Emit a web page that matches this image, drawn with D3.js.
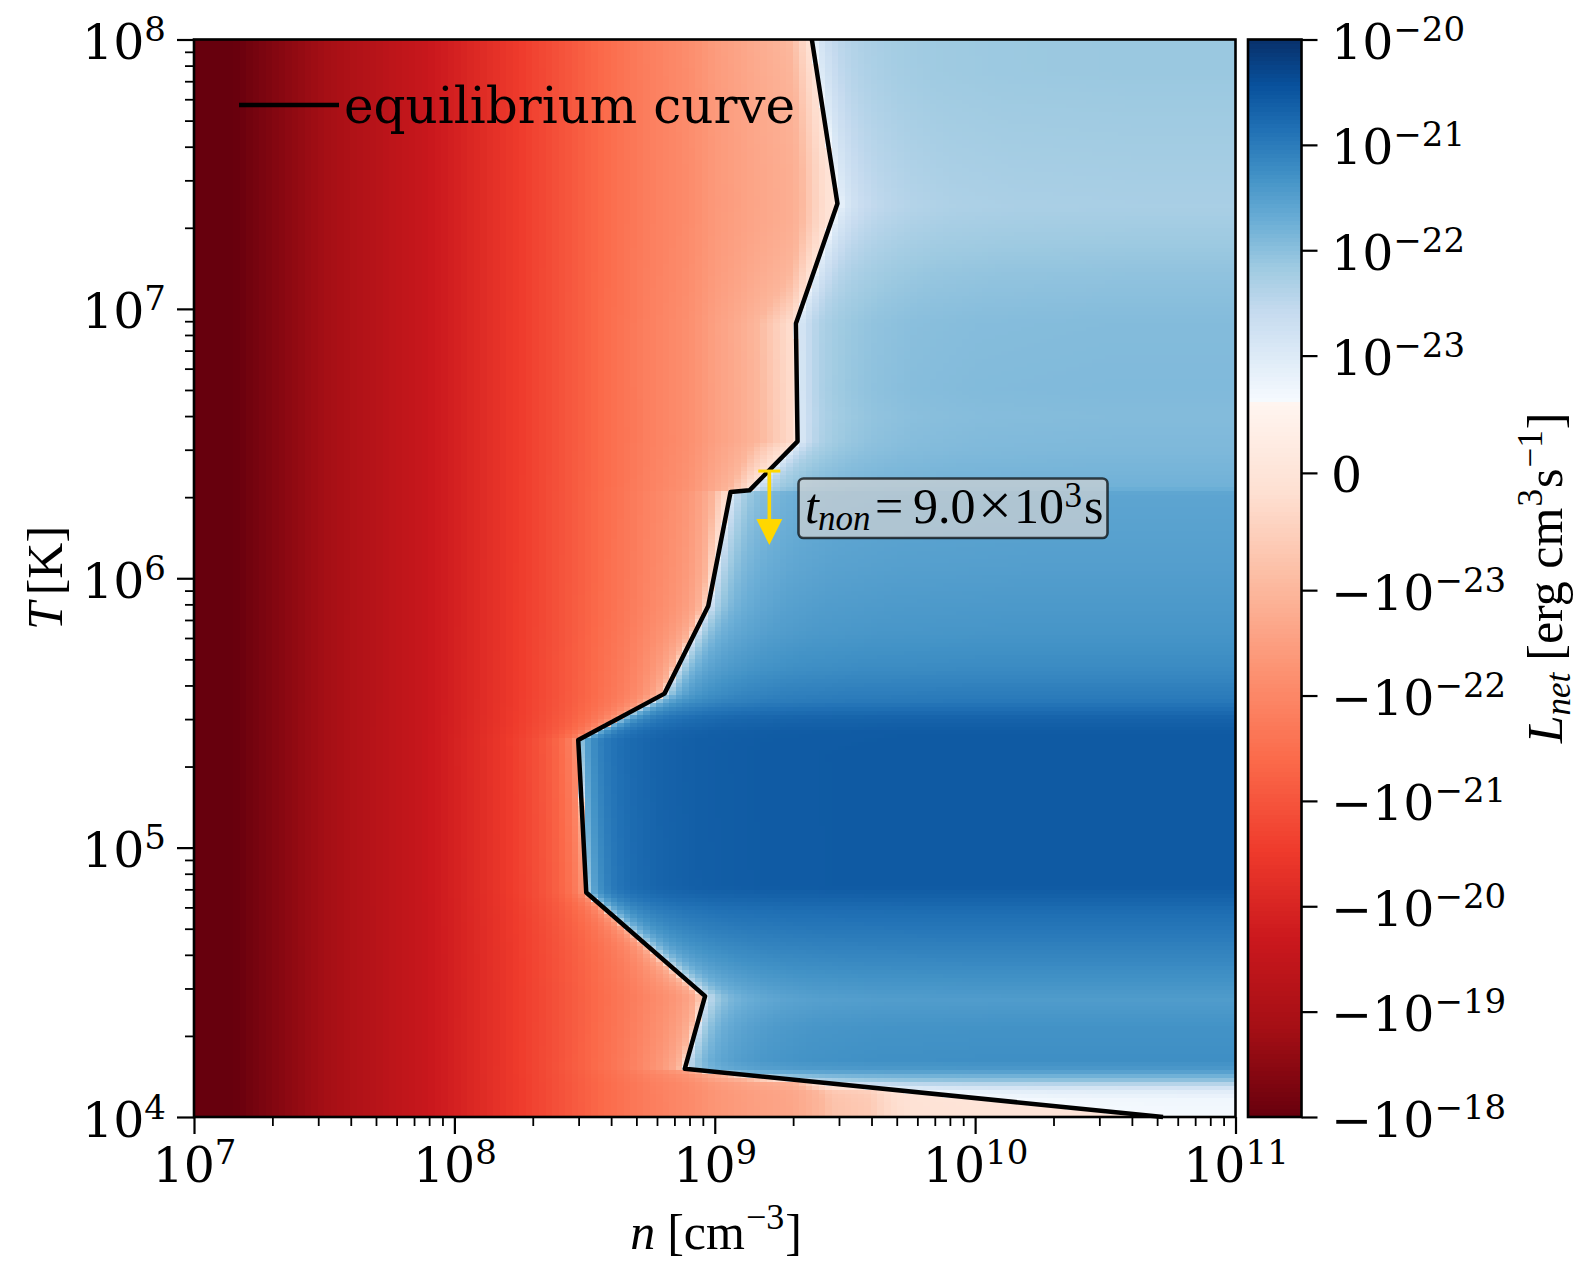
<!DOCTYPE html>
<html>
<head>
<meta charset="utf-8">
<script src="https://cdn.jsdelivr.net/npm/d3@7"></script>
<style>
  html, body { margin: 0; padding: 0; background: #fff; }
  svg { display: block; }
</style>
</head>
<body>
<svg id="sg"></svg>
<script>
// equilibrium curve
const eqDensity = [2.36e9, 2.96e9, 2.05e9, 2.08e9, 1.36e9, 1.15e9, 9.44e8, 6.41e8, 2.99e8, 3.21e8, 9.18e8, 7.67e8, 5.27e10];
const eqTemp = [1e8, 2.46e7, 8.83e6, 3.22e6, 2.12e6, 2.09e6, 7.89e5, 3.73e5, 2.51e5, 6.81e4, 2.81e4, 1.51e4, 1e4];

// heating side: log10 |L_net| against log10 n, read along the bottom and top rows
const heatLogN = [7, 7.154, 7.384, 7.615, 7.884, 8.103, 8.253, 8.572, 8.75, 8.894, 9, 9.148, 9.3, 9.45, 9.6, 9.77, 10, 10.72, 11];
const heatLogL = [-17.8, -18, -18.57, -19.1, -19.6, -20.15, -20.54, -21.39, -21.8, -22.05, -22.3, -22.5, -22.65, -23.1, -23.2, -24, -24.4, -25.5, -26];

// cooling side: log10 L_net against log10 T, read along the right edge
const coolLogT = [8, 7.879, 7.382, 7.137, 6.951, 6.703, 6.603, 6.477, 6.34, 6.317, 6.043, 5.798, 5.672, 5.549, 5.486, 5.427, 5.353, 4.856, 4.819, 4.77, 4.585, 4.437, 4.337, 4.215, 4.178, 4.141, 4.104, 4.067, 4.011, 4];
const coolLogL = [-22.12, -22.12, -22.27, -22.04, -21.93, -21.9, -21.93, -21.88, -21.77, -21.58, -21.48, -21.34, -21.2, -20.96, -20.67, -20.56, -20.55, -20.55, -20.65, -20.8, -21.15, -21.44, -21.3, -21.25, -21.4, -22, -23, -23.15, -23.18, -23.18];

// how fast the blue side recovers with log10 distance from the curve
const riseDist = [0, 0.03, 0.06, 0.1, 0.15, 0.2, 0.3, 0.45, 0.7, 1.2];
const riseFrac = [0, 0.1, 0.22, 0.37, 0.5, 0.6, 0.75, 0.88, 0.96, 1];

// ticks and labels
const xTickExp = [7, 8, 9, 10, 11];
const yTickExp = [4, 5, 6, 7, 8];
const cbarTicks = [1e-20, 1e-21, 1e-22, 1e-23, 0, -1e-23, -1e-22, -1e-21, -1e-20, -1e-19, -1e-18];
const cbarExp = ["20", "21", "22", "23", "", "23", "22", "21", "20", "19", "18"];

// matplotlib Blues and Reds
const bluesStops = ["#f7fbff", "#deebf7", "#c6dbef", "#9ecae1", "#6baed6", "#4292c6", "#2171b5", "#08519c", "#08306b"];
const redsStops = ["#67000d", "#a50f15", "#cb181d", "#ef3b2c", "#fb6a4a", "#fc9272", "#fcbba1", "#fee0d2", "#fff5f0"];

const arrowN = 1.62e9, arrowFromT = 2.5e6, arrowToT = 1.33e6;

const svgWidth = 1595, svgHeight = 1278;
const margin = { top: 39.5, left: 194, right: 1235.5, bottom: 1117 };
const cbar = { left: 1248, right: 1301.5 };
const serif = "'DejaVu Serif', serif";
const stix = "'Liberation Serif', serif";
const bigSize = 49, supSize = 34;

const svg = d3.select("#sg").attr("width", svgWidth).attr("height", svgHeight);

const x = d3.scaleLog().domain([1e7, 1e11]).range([margin.left, margin.right]);
const y = d3.scaleLog().domain([1e4, 1e8]).range([margin.bottom, margin.top]);

// symmetric log like the one on the colour bar: linear inside 1e-23
const linThresh = 1e-23, linDecades = 1.113;
function sym(v) {
  const a = Math.abs(v);
  if (a <= linThresh) return (v / linThresh) * linDecades;
  return Math.sign(v) * (linDecades + Math.log10(a / linThresh));
}
const symMin = sym(-1e-18), symMax = sym(1e-20), symBreak = sym(6e-24);
const cbarY = d3.scaleLinear().domain([symMin, symMax]).range([margin.bottom, margin.top]);

const blues = d3.scaleLinear().domain(bluesStops.map((d, i) => i / 8)).range(bluesStops);
const reds = d3.scaleLinear().domain(redsStops.map((d, i) => i / 8)).range(redsStops);
function colorOf(s) {
  s = Math.max(symMin, Math.min(symMax, s));
  if (s < symBreak) return reds((s - symMin) / (symBreak - symMin));
  return blues((s - symBreak) / (symMax - symBreak));
}

const heatAt = d3.scaleLinear().domain(heatLogN).range(heatLogL);
const coolAt = d3.scaleLinear().domain(coolLogT).range(coolLogL);
const riseAt = d3.scaleLinear().domain(riseDist).range(riseFrac).clamp(true);
const eqLogN = d3.scaleLinear().domain(eqTemp.map(Math.log10)).range(eqDensity.map(Math.log10));

function netValue(logN, logT) {
  const edge = eqLogN(logT);
  if (logN < edge) return -(Math.pow(10, heatAt(logN)) - Math.pow(10, heatAt(edge)));
  const cool = Math.pow(10, coolAt(logT));
  return 6.1e-24 + Math.max(0, cool - 6.1e-24) * riseAt(logN - edge);
}

// heat map
const colCount = 160, rowCount = 270;
const nCols = d3.range(colCount).map(i => 7 + (i * 4) / colCount);
const tRows = d3.range(rowCount).map(i => 4 + (i * 4) / rowCount);
const heat = svg.append("g").attr("shape-rendering", "crispEdges");
tRows.forEach(function(lt) {
  const top = y(Math.pow(10, lt + 4 / rowCount));
  const bot = y(Math.pow(10, lt));
  heat.append("g")
    .selectAll("rect")
    .data(nCols)
    .join("rect")
    .attr("x", d => x(Math.pow(10, d)))
    .attr("y", top)
    .attr("width", d => x(Math.pow(10, d + 4 / colCount)) - x(Math.pow(10, d)) + 0.6)
    .attr("height", bot - top + 0.6)
    .attr("fill", d => colorOf(sym(netValue(d + 2 / colCount, lt + 2 / rowCount))));
});

// equilibrium curve
const line = d3.line().x(d => x(d[0])).y(d => y(d[1]));
svg.append("path")
  .datum(d3.zip(eqDensity, eqTemp))
  .attr("fill", "none")
  .attr("stroke", "#000")
  .attr("stroke-width", 4.5)
  .attr("stroke-linejoin", "round")
  .attr("d", line);

svg.append("rect")
  .attr("x", margin.left).attr("y", margin.top)
  .attr("width", margin.right - margin.left).attr("height", margin.bottom - margin.top)
  .attr("fill", "none").attr("stroke", "#000").attr("stroke-width", 2.6);

// 10^k labels as real text
function powerText(sel, lead, exp) {
  sel.attr("font-family", serif).attr("font-size", bigSize).attr("fill", "#000");
  sel.append("tspan").text(lead);
  if (exp !== "") sel.append("tspan").attr("dy", -18).attr("font-size", supSize).text(exp);
}

function minorsOf(exps) {
  const out = [];
  exps.slice(0, -1).forEach(e => d3.range(2, 10).forEach(m => out.push(m * Math.pow(10, e))));
  return out;
}

function dressAxis(g, sw) {
  g.select(".domain").remove();
  g.selectAll(".tick line").attr("stroke", "#000").attr("stroke-width", sw);
  g.selectAll(".tick text").remove();
}

// x axis
const xMinor = svg.append("g").attr("transform", "translate(0," + margin.bottom + ")")
  .call(d3.axisBottom(x).tickValues(minorsOf(xTickExp)).tickSize(9).tickFormat(""));
dressAxis(xMinor, 1.8);
const xMajor = svg.append("g").attr("transform", "translate(0," + margin.bottom + ")")
  .call(d3.axisBottom(x).tickValues(xTickExp.map(e => Math.pow(10, e))).tickSize(17).tickFormat(""));
dressAxis(xMajor, 2.2);
xMajor.selectAll(".tick").data(xTickExp).append("text")
  .attr("y", 65).attr("text-anchor", "middle")
  .each(function(d) { powerText(d3.select(this), "10", String(d)); });

// y axis
const yMinor = svg.append("g").attr("transform", "translate(" + margin.left + ",0)")
  .call(d3.axisLeft(y).tickValues(minorsOf(yTickExp)).tickSize(9).tickFormat(""));
dressAxis(yMinor, 1.8);
const yMajor = svg.append("g").attr("transform", "translate(" + margin.left + ",0)")
  .call(d3.axisLeft(y).tickValues(yTickExp.map(e => Math.pow(10, e))).tickSize(17).tickFormat(""));
dressAxis(yMajor, 2.2);
yMajor.selectAll(".tick").data(yTickExp).append("text")
  .attr("x", -28).attr("y", 19).attr("text-anchor", "end")
  .each(function(d) { powerText(d3.select(this), "10", String(d)); });

// colour bar
const levels = d3.range(256).map(i => symMin + ((symMax - symMin) * (i + 0.5)) / 256);
const cellH = Math.abs(cbarY(levels[1]) - cbarY(levels[0]));
svg.append("g").attr("shape-rendering", "crispEdges")
  .selectAll("rect").data(levels).join("rect")
  .attr("x", cbar.left).attr("width", cbar.right - cbar.left)
  .attr("y", d => cbarY(d) - cellH / 2).attr("height", cellH + 0.6)
  .attr("fill", colorOf);
svg.append("rect")
  .attr("x", cbar.left).attr("y", margin.top)
  .attr("width", cbar.right - cbar.left).attr("height", margin.bottom - margin.top)
  .attr("fill", "none").attr("stroke", "#000").attr("stroke-width", 2.6);
const cbarAxis = svg.append("g").attr("transform", "translate(" + cbar.right + ",0)")
  .call(d3.axisRight(cbarY).tickValues(cbarTicks.map(sym)).tickSize(16).tickFormat(""));
dressAxis(cbarAxis, 2.2);
cbarAxis.selectAll(".tick").data(cbarTicks).append("text")
  .attr("x", 29.5).attr("y", 19)
  .each(function(d, i) {
    const lead = d === 0 ? "0" : d < 0 ? "\u221210" : "10";
    powerText(d3.select(this), lead, d === 0 ? "" : "\u2212" + cbarExp[i]);
  });

// axis titles
const xTitle = svg.append("text").attr("x", 716).attr("y", 1249).attr("text-anchor", "middle")
  .attr("font-family", stix).attr("font-size", 50);
xTitle.append("tspan").attr("font-style", "italic").text("n");
xTitle.append("tspan").attr("dx", 12).text("[cm");
xTitle.append("tspan").attr("dy", -20).attr("dx", 1).attr("font-size", 36).text("\u22123");
xTitle.append("tspan").attr("dy", 20).attr("dx", 1).text("]");

const yTitle = svg.append("text").attr("transform", "translate(62,578) rotate(-90)").attr("text-anchor", "middle")
  .attr("font-family", stix).attr("font-size", 50);
yTitle.append("tspan").attr("font-style", "italic").text("T");
yTitle.append("tspan").attr("dx", 7).text("[K]");

const cbarTitle = svg.append("text").attr("transform", "translate(1562,578) rotate(-90)").attr("text-anchor", "middle")
  .attr("font-family", stix).attr("font-size", 50);
cbarTitle.append("tspan").attr("font-style", "italic").text("L");
cbarTitle.append("tspan").attr("font-style", "italic").attr("font-size", 35).attr("dy", 8).text("net");
cbarTitle.append("tspan").attr("dy", -8).attr("dx", 12).text("[erg cm");
cbarTitle.append("tspan").attr("dy", -20).attr("dx", 1).attr("font-size", 35).text("3");
cbarTitle.append("tspan").attr("dy", 20).attr("dx", 1).text("s");
cbarTitle.append("tspan").attr("dy", -20).attr("dx", 1).attr("font-size", 35).text("\u22121");
cbarTitle.append("tspan").attr("dy", 20).attr("dx", 1).text("]");

// legend
svg.append("line").attr("x1", 239).attr("x2", 339).attr("y1", 105).attr("y2", 105)
  .attr("stroke", "#000").attr("stroke-width", 4.5);
svg.append("text").attr("x", 344).attr("y", 122.7)
  .attr("font-family", serif).attr("font-size", 50).text("equilibrium curve");

// cooling time arrow
const arrowX = x(arrowN);
const gold = "#ffd700";
svg.append("line").attr("x1", arrowX - 11).attr("x2", arrowX + 11)
  .attr("y1", y(arrowFromT)).attr("y2", y(arrowFromT))
  .attr("stroke", gold).attr("stroke-width", 3);
svg.append("line").attr("x1", arrowX).attr("x2", arrowX)
  .attr("y1", y(arrowFromT)).attr("y2", y(arrowToT) - 20)
  .attr("stroke", gold).attr("stroke-width", 3.6);
svg.append("path")
  .attr("d", d3.line()([[arrowX - 13, y(arrowToT) - 26], [arrowX + 13, y(arrowToT) - 26], [arrowX, y(arrowToT)]]) + "Z")
  .attr("fill", gold);

// annotation box
svg.append("rect").attr("x", 798.5).attr("y", 478.5).attr("width", 309).attr("height", 59.5)
  .attr("rx", 5).attr("ry", 5)
  .attr("fill", "#d3d3d3").attr("fill-opacity", 0.7)
  .attr("stroke", "#000").attr("stroke-opacity", 0.7).attr("stroke-width", 2.6);
const note = svg.append("text").attr("y", 523).attr("font-family", stix).attr("font-size", 50);
note.append("tspan").attr("x", 805).attr("font-style", "italic").text("t");
note.append("tspan").attr("x", 818).attr("dy", 7).attr("font-style", "italic").attr("font-size", 35).text("non");
note.append("tspan").attr("x", 875).attr("dy", -7).text("=");
note.append("tspan").attr("x", 913).text("9.0");
note.append("tspan").attr("x", 978).attr("dy", 2).attr("font-size", 60).text("\u00d7");
note.append("tspan").attr("x", 1014).attr("dy", -2).text("10");
note.append("tspan").attr("x", 1064.5).attr("dy", -16).attr("font-size", 35).text("3");
note.append("tspan").attr("x", 1084).attr("dy", 16).text("s");
</script>
</body>
</html>
